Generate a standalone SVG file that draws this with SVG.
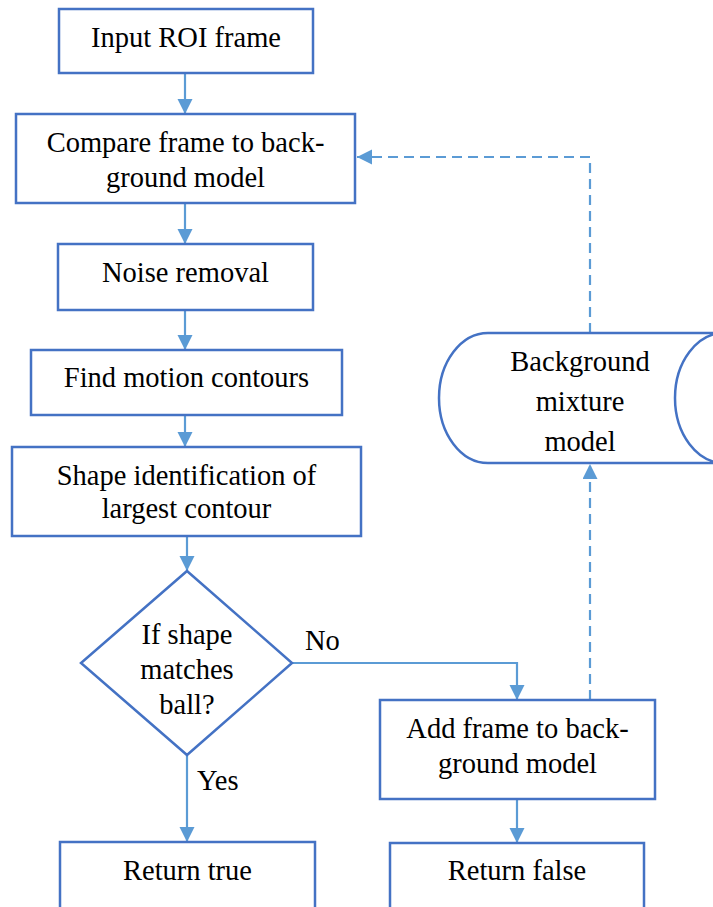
<svg xmlns="http://www.w3.org/2000/svg" width="713" height="907" viewBox="0 0 713 907" font-family="Liberation Serif, DejaVu Serif, serif">
<defs>
<style>
.box{fill:#fff;stroke:#4472C4;stroke-width:2.5}
.ln{fill:none;stroke:#5B9BD5;stroke-width:2.2}
.dash{stroke-dasharray:10 6}
text{font-size:28.5px;fill:#000}
.t{text-anchor:middle}
</style>
<marker id="ah" markerUnits="userSpaceOnUse" markerWidth="16" markerHeight="16" refX="15" refY="7.5" orient="auto">
<path d="M0,0 L15,7.5 L0,15 Z" fill="#5B9BD5"/>
</marker>
</defs>
<g id="connectors">
<line class="ln" x1="185" y1="73" x2="185" y2="114" marker-end="url(#ah)"/>
<line class="ln" x1="185" y1="203" x2="185" y2="244" marker-end="url(#ah)"/>
<line class="ln" x1="185" y1="310" x2="185" y2="350" marker-end="url(#ah)"/>
<line class="ln" x1="185" y1="415" x2="185" y2="447" marker-end="url(#ah)"/>
<line class="ln" x1="187" y1="536" x2="187" y2="571" marker-end="url(#ah)"/>
<line class="ln" x1="187" y1="755" x2="187" y2="842" marker-end="url(#ah)"/>
<polyline class="ln" points="292,663 517,663 517,700" marker-end="url(#ah)"/>
<line class="ln" x1="517" y1="799" x2="517" y2="843" marker-end="url(#ah)"/>
<line class="ln dash" x1="590" y1="700" x2="590" y2="464" marker-end="url(#ah)"/>
<polyline class="ln dash" points="590,333 590,157 357,157" marker-end="url(#ah)"/>
</g>
<g id="n1"><rect class="box" x="59" y="9" width="254" height="64"/><text class="t" x="186" y="47">Input ROI frame</text></g>
<g id="n2"><rect class="box" x="16" y="114" width="339" height="89"/><text class="t" x="185.5" y="152">Compare frame to back-</text><text class="t" x="185.5" y="187">ground model</text></g>
<g id="n3"><rect class="box" x="58" y="244" width="255" height="66"/><text class="t" x="185.5" y="282">Noise removal</text></g>
<g id="n4"><rect class="box" x="31" y="350" width="311" height="65"/><text class="t" x="186.5" y="387">Find motion contours</text></g>
<g id="n5"><rect class="box" x="12" y="447" width="349" height="89"/><text class="t" x="186.5" y="485">Shape identification of</text><text class="t" x="186.5" y="518">largest contour</text></g>
<g id="n6"><polygon class="box" points="187,571 292,663 187,755 81,663"/><text class="t" x="187" y="644">If shape</text><text class="t" x="187" y="679">matches</text><text class="t" x="187" y="714">ball?</text></g>
<g id="n7"><rect class="box" x="380" y="700" width="275" height="99"/><text class="t" x="517.5" y="738">Add frame to back-</text><text class="t" x="517.5" y="773">ground model</text></g>
<g id="n8"><path class="box" d="M488,333 H724 A49,65 0 0 0 724,463 H488 A49,65 0 0 1 488,333 Z"/><text class="t" x="580" y="371">Background</text><text class="t" x="580" y="411">mixture</text><text class="t" x="580" y="451">model</text></g>
<g id="n9"><rect class="box" x="60" y="842" width="255" height="80"/><text class="t" x="187.5" y="880">Return true</text></g>
<g id="n10"><rect class="box" x="390" y="843" width="254" height="80"/><text class="t" x="517" y="880">Return false</text></g>
<g id="labels"><text x="305" y="650">No</text><text x="197" y="790">Yes</text></g>
</svg>
